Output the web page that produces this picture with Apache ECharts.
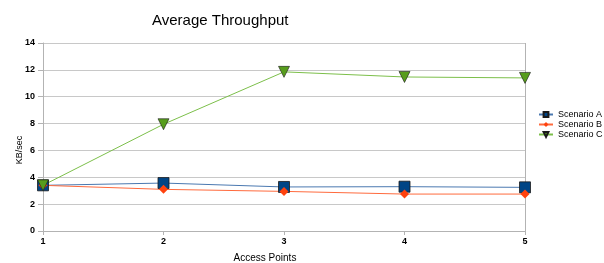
<!DOCTYPE html>
<html>
<head>
<meta charset="utf-8">
<script src="https://cdn.jsdelivr.net/npm/echarts@6/dist/echarts.min.js"></script>
<style>
html, body { margin: 0; padding: 0; background: #fff; }
#chart { width: 604px; height: 263px; }
</style>
</head>
<body>
<div id="chart"></div>
<script>
const accessPoints = ['1', '2', '3', '4', '5'];
const scenarioA = [3.4, 3.57, 3.28, 3.3, 3.25];
const scenarioB = [3.4, 3.1, 2.95, 2.75, 2.75];
const scenarioC = [3.4, 7.95, 11.85, 11.47, 11.4];

const chart = echarts.init(document.getElementById('chart'));
const font = 'Liberation Sans, Arial, sans-serif';

const option = {
    animation: false,
    title: {
        text: 'Average Throughput',
        left: 147,
        top: 8,
        textStyle: { fontFamily: font, fontSize: 15, fontWeight: 'normal', color: '#000' }
    },
    legend: {
        orient: 'vertical',
        left: 533,
        top: 105,
        itemWidth: 14,
        itemHeight: 6,
        itemGap: 1,
        textStyle: { fontFamily: font, fontSize: 9, lineHeight: 9, color: '#000' },
        data: ['Scenario A', 'Scenario B', 'Scenario C']
    },
    grid: {
        left: 43,
        right: 79,
        top: 43,
        bottom: 32,
        outerBoundsMode: 'none'
    },
    xAxis: {
        type: 'category',
        data: accessPoints,
        boundaryGap: false,
        name: 'Access Points',
        nameLocation: 'middle',
        nameGap: 22,
        nameMoveOverlap: false,
        nameTextStyle: { fontFamily: font, fontSize: 10, color: '#000', padding: [0, 38, 0, 0] },
        axisLine: { lineStyle: { color: '#b3b3b3' } },
        axisTick: { show: true, length: 4, lineStyle: { color: '#b3b3b3' } },
        axisLabel: { fontFamily: font, fontSize: 9, fontWeight: 'bold', color: '#000', margin: 6 },
        splitLine: { show: false }
    },
    yAxis: {
        type: 'value',
        min: 0,
        max: 14,
        interval: 2,
        name: 'KB/sec',
        nameLocation: 'middle',
        nameGap: 19,
        nameMoveOverlap: false,
        nameTextStyle: { fontFamily: font, fontSize: 9, color: '#000', padding: [0, 26, 0, 0] },
        axisLine: { show: true, lineStyle: { color: '#b3b3b3' } },
        axisTick: { show: true, length: 5, lineStyle: { color: '#b3b3b3' } },
        axisLabel: { fontFamily: font, fontSize: 9, fontWeight: 'bold', color: '#000', margin: 8 },
        splitLine: { lineStyle: { color: '#c8c8c8' } }
    },
    series: [
        {
            name: 'Scenario A',
            type: 'line',
            data: scenarioA,
            symbol: 'rect',
            symbolSize: 11,
            itemStyle: { color: '#004586', borderColor: '#1a1a1a', borderWidth: 0.8 },
            lineStyle: { color: '#4a78b0', width: 1 }
        },
        {
            name: 'Scenario B',
            type: 'line',
            data: scenarioB,
            symbol: 'diamond',
            symbolSize: 9,
            itemStyle: { color: '#ff420e' },
            lineStyle: { color: '#ff6a3d', width: 1 }
        },
        {
            name: 'Scenario C',
            type: 'line',
            data: scenarioC,
            symbol: 'triangle',
            symbolRotate: 180,
            symbolSize: 11,
            itemStyle: { color: '#579d1c', borderColor: '#1a1a1a', borderWidth: 0.6 },
            lineStyle: { color: '#7cbf4a', width: 1 }
        }
    ],
    graphic: [
        {
            type: 'line',
            shape: { x1: 525.5, y1: 43, x2: 525.5, y2: 231 },
            style: { stroke: '#b3b3b3', lineWidth: 1 }
        }
    ]
};

chart.setOption(option);
</script>
</body>
</html>
